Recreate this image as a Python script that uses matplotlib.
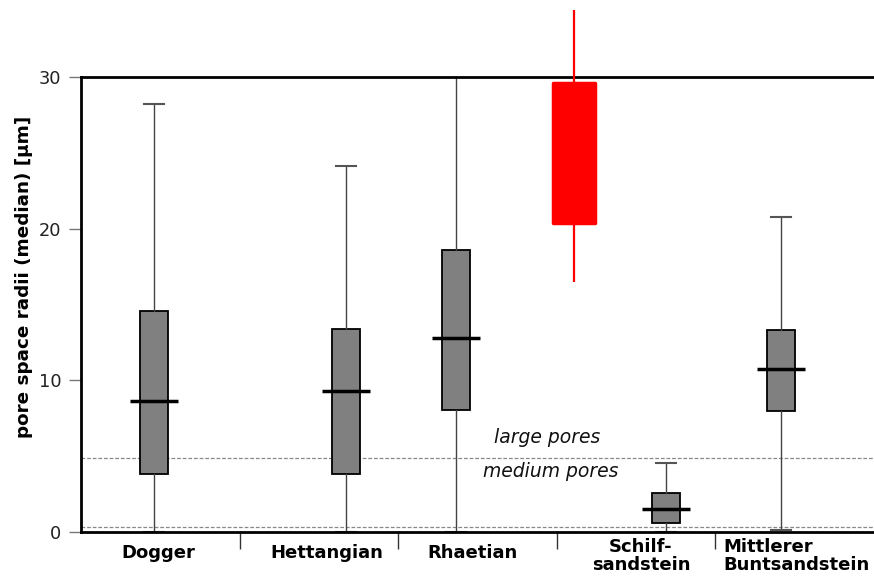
import matplotlib
matplotlib.use("Agg")
import matplotlib.pyplot as plt

plt.rcParams['font.family'] = ['DejaVu Sans']

# ---- data ----
categories = ["Dogger", "Hettangian", "Rhaetian", "Schilf-\nsandstein", "Mittlerer\nBuntsandstein"]
box_names = ["Dogger", "Hettangian", "Rhaetian", "Schilfsandstein", "Mittlerer Buntsandstein"]
whis_lo = [0.0, 0.0, 0.0, 0.0, 0.1]
q1 = [3.8, 3.8, 8.04, 0.57, 7.98]
med = [8.66, 9.27, 12.81, 1.54, 10.72]
q3 = [14.57, 13.4, 18.57, 2.55, 13.3]
whis_hi = [28.2, 24.15, 31.5, 4.53, 20.74]
box_pos = [0.458, 1.669, 2.366, 3.691, 4.414]

red_name = "highlight"
red_whis_lo = 16.5
red_q1 = 20.35
red_q3 = 29.58
red_whis_hi = 34.4
red_pos = 3.108

pore_limits = [4.85, 0.3]
pore_labels = ["large pores", "medium pores"]

yticks = [0, 10, 20, 30]
ylabel = "pore space radii (median) [\u00b5m]"

# ---- figure ----
fig = plt.figure(figsize=(8.74, 5.77), dpi=100)
ax = fig.add_axes([81 / 874, 45 / 577, 1 - 81 / 874, 455 / 577])
ax.set_xlim(0, 5.0)
ax.set_ylim(0, 30)

# pore class lines
for v in pore_limits:
    ax.axhline(v, color="#888888", lw=0.9, ls=(0, (3, 1.5)), zorder=1)
ax.text(2.94, 6.2, pore_labels[0], style="italic", fontsize=13.5, ha="center", va="center", color="#111111")
ax.text(2.96, 4.0, pore_labels[1], style="italic", fontsize=13.5, ha="center", va="center", color="#111111")

# gray boxes
stats = []
for i in range(len(box_names)):
    stats.append(dict(label=box_names[i], whislo=whis_lo[i], q1=q1[i], med=med[i],
                      q3=q3[i], whishi=whis_hi[i], fliers=[]))
bw = 0.1775
ax.bxp(stats, positions=box_pos, widths=bw, capwidths=0.127, patch_artist=True,
       showfliers=False, manage_ticks=False,
       boxprops=dict(facecolor="#808080", edgecolor="black", linewidth=1.3),
       whiskerprops=dict(color="#444444", linewidth=1.0),
       capprops=dict(color="#555555", linewidth=1.5),
       medianprops=dict(linewidth=0))
ax.hlines(med, [p - 0.152 for p in box_pos], [p + 0.152 for p in box_pos],
          colors="black", linewidth=2.5, zorder=4)

# red box
ax.vlines(red_pos, red_whis_lo, red_whis_hi, colors="red", linewidth=1.6, clip_on=False, zorder=3)
ax.bar(red_pos, red_q3 - red_q1, bottom=red_q1, width=0.27, color="red",
       edgecolor="red", linewidth=2.5, joinstyle="round", zorder=4)

# axes styling
for s in ["left", "top", "bottom"]:
    ax.spines[s].set_linewidth(2)
    ax.spines[s].set_color("black")
ax.spines["right"].set_visible(False)
ax.set_yticks(yticks)
ax.set_yticklabels([str(t) for t in yticks], fontsize=12.8, color="#222222")
ax.tick_params(axis="y", length=9, width=1, color="#777777", pad=5)
ax.set_xticks([1, 2, 3, 4])
ax.set_xticklabels([])
ax.tick_params(axis="x", length=12, width=1, color="#333333", direction="out")
ax.set_ylabel(ylabel, fontsize=13.2, fontweight="bold")
ax.yaxis.set_label_coords(-0.0605, 0.56)

# category labels
label_x = [0.488, 1.553, 2.466, 3.531, 4.051]
label_ha = ["center", "center", "center", "center", "left"]
trans = ax.get_xaxis_transform()
for c, x, ha in zip(categories, label_x, label_ha):
    n = c.count("\n")
    y = -0.046 if n == 0 else -0.053
    ax.text(x, y, c, transform=trans, ha=ha, va="center", fontsize=13,
            fontweight="bold", linespacing=1.0, multialignment=ha, clip_on=False)

fig.savefig("out.png", dpi=100)
